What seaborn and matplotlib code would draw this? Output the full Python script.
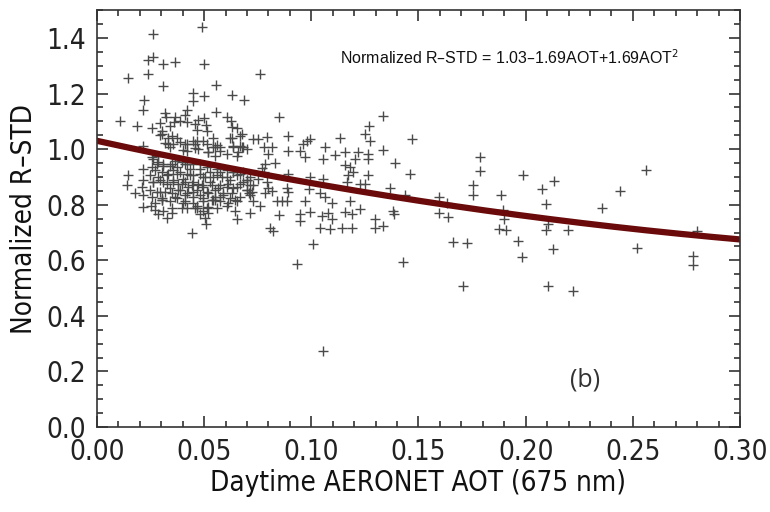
import numpy as np
import pandas as pd
import matplotlib
matplotlib.use("Agg")
import matplotlib.pyplot as plt
import seaborn as sns
from matplotlib.ticker import MultipleLocator

# Daytime AERONET AOT (675 nm) and normalized R-STD
aot = [
    # upper scatter (R-STD > 1.07)
    0.0489, 0.0263, 0.0236, 0.0263, 0.0306, 0.0364, 0.0501, 0.0146, 0.0236, 0.0761,
    0.0306, 0.0554, 0.0446, 0.0446, 0.0499, 0.0628, 0.0686, 0.0221, 0.0216, 0.0107,
    0.0185, 0.0554, 0.0849, 0.1336, 0.1271,
    0.0318, 0.0322, 0.0364, 0.0388, 0.0411, 0.0419, 0.0294, 0.0341, 0.0360, 0.0473,
    0.0499, 0.0509, 0.0458, 0.0605, 0.0624, 0.0629, 0.0655, 0.0418,
    # just above the fit line
    0.0302, 0.0294, 0.0333, 0.0465, 0.0515, 0.0678, 0.0512, 0.0543, 0.0562, 0.0621,
    0.0636, 0.0667, 0.0699, 0.0318, 0.0356, 0.0388, 0.0422, 0.0450, 0.0458, 0.0255,
    0.0519, 0.0574, 0.0659, 0.0550, 0.0682, 0.0403,
    0.0302, 0.0348, 0.0372, 0.0333, 0.0341, 0.0411, 0.0465, 0.0457, 0.0496, 0.0418,
    0.0473, 0.0543, 0.0574, 0.0519, 0.0550, 0.0628, 0.0667, 0.0636, 0.0675, 0.0605,
    0.0652,
    # dense core under the line
    0.0263, 0.0286, 0.0309, 0.0340, 0.0364, 0.0395, 0.0418, 0.0449, 0.0480, 0.0511,
    0.0558, 0.0605, 0.0636, 0.0667,
    0.0270, 0.0301, 0.0333, 0.0356, 0.0387, 0.0418, 0.0449, 0.0480, 0.0504, 0.0542,
    0.0581, 0.0620, 0.0682, 0.0714,
    0.0263, 0.0294, 0.0325, 0.0356, 0.0379, 0.0410, 0.0441, 0.0472, 0.0496, 0.0535,
    0.0566, 0.0605, 0.0651, 0.0698, 0.0729,
    0.0278, 0.0317, 0.0348, 0.0387, 0.0418, 0.0449, 0.0480, 0.0519, 0.0550, 0.0589,
    0.0628, 0.0667, 0.0714,
    0.0301, 0.0340, 0.0371, 0.0410, 0.0449, 0.0496, 0.0535, 0.0574, 0.0612, 0.0651,
    0.0270, 0.0309, 0.0348, 0.0286, 0.0418, 0.0465, 0.0480, 0.0558, 0.0605, 0.0644,
    0.0651, 0.0714,
    0.0325, 0.0349, 0.0442, 0.0504, 0.0509, 0.0519,
    0.0278, 0.0310, 0.0348, 0.0372, 0.0411, 0.0434, 0.0481, 0.0527, 0.0574, 0.0636,
    0.0683,
    0.0286, 0.0325, 0.0372, 0.0403, 0.0434, 0.0496, 0.0558, 0.0605, 0.0652, 0.0698,
    0.0263, 0.0310, 0.0356, 0.0395, 0.0449, 0.0488, 0.0527, 0.0574, 0.0613, 0.0667,
    0.0294, 0.0341, 0.0380, 0.0426, 0.0465, 0.0512, 0.0550, 0.0589, 0.0636, 0.0698,
    0.0255, 0.0302, 0.0364, 0.0411, 0.0449, 0.0496, 0.0543, 0.0574, 0.0620, 0.0644,
    0.0271, 0.0302, 0.0403, 0.0465, 0.0512, 0.0550,
    0.0395, 0.0457, 0.0496, 0.0519,
    # left edge
    0.0216, 0.0255, 0.0286, 0.0216, 0.0255, 0.0146, 0.0247, 0.0138, 0.0216, 0.0177,
    0.0208, 0.0247, 0.0216, 0.0216, 0.0252,
    # middle (0.07 - 0.15)
    0.0730, 0.0753, 0.0792, 0.0893, 0.0979, 0.0963, 0.0994, 0.1134, 0.1251, 0.1274,
    0.1469, 0.0777, 0.0815, 0.0800, 0.0893, 0.0948, 0.0971, 0.1064, 0.1056, 0.1111,
    0.1157, 0.1204, 0.1220, 0.1266, 0.1266, 0.1336, 0.1391, 0.1157, 0.1181, 0.1196,
    0.1173, 0.1165, 0.1266, 0.1227, 0.1251, 0.1367, 0.1461, 0.1437,
    0.0699, 0.0714, 0.0722, 0.0707, 0.0730, 0.0761, 0.0753, 0.0769, 0.0784, 0.0777,
    0.0792, 0.0800, 0.0784, 0.0815, 0.0831, 0.0839, 0.0862, 0.0885, 0.0893, 0.0885,
    0.0893, 0.0971, 0.0994, 0.0987, 0.1056, 0.1041, 0.1064, 0.1095, 0.1228, 0.1181,
    0.1157, 0.1189, 0.0994, 0.0948, 0.0948, 0.1049, 0.1080, 0.1095, 0.0847, 0.0808,
    0.0823, 0.1041, 0.1088, 0.1142, 0.1189, 0.1010, 0.1297, 0.1297, 0.1336, 0.1383,
    0.1386, 0.0933, 0.1053,
    # right tail
    0.1430, 0.1787, 0.1787, 0.1753, 0.1753, 0.1597, 0.1632, 0.1597, 0.1636, 0.1663,
    0.1728, 0.1706, 0.1884, 0.1893, 0.1899, 0.1877, 0.1908, 0.1966, 0.1982, 0.1986,
    0.2075, 0.2132, 0.2094, 0.2106, 0.2094, 0.2199, 0.2129, 0.2103, 0.2220, 0.2355,
    0.2440, 0.2521, 0.2562, 0.2798, 0.2779, 0.2779,
]
rstd = [
    1.441, 1.415, 1.321, 1.333, 1.306, 1.312, 1.306, 1.255, 1.270, 1.270,
    1.229, 1.232, 1.202, 1.175, 1.192, 1.194, 1.176, 1.176, 1.141, 1.100,
    1.085, 1.132, 1.115, 1.118, 1.082,
    1.129, 1.114, 1.114, 1.102, 1.123, 1.097, 1.094, 1.082, 1.097, 1.106,
    1.112, 1.088, 1.090, 1.117, 1.100, 1.079, 1.076, 1.141,
    1.064, 1.050, 1.041, 1.070, 1.067, 1.055, 1.018, 1.039, 1.015, 1.041,
    1.012, 1.012, 1.000, 1.023, 1.018, 1.027, 1.018, 1.029, 1.003, 1.077,
    0.988, 0.994, 0.988, 1.006, 1.006, 0.998,
    1.053, 1.047, 1.041, 1.017, 1.006, 1.017, 1.029, 1.017, 1.029, 0.994,
    1.000, 1.006, 1.006, 0.988, 0.976, 1.041, 1.047, 1.006, 1.006, 0.982,
    0.976,
    0.965, 0.953, 0.947, 0.941, 0.959, 0.953, 0.947, 0.947, 0.947, 0.935,
    0.929, 0.924, 0.918, 0.912,
    0.924, 0.918, 0.912, 0.924, 0.918, 0.912, 0.906, 0.912, 0.900, 0.900,
    0.900, 0.888, 0.882, 0.900,
    0.882, 0.888, 0.876, 0.888, 0.876, 0.882, 0.871, 0.876, 0.865, 0.871,
    0.859, 0.865, 0.865, 0.853, 0.871,
    0.847, 0.847, 0.841, 0.853, 0.841, 0.847, 0.835, 0.841, 0.829, 0.835,
    0.841, 0.829, 0.835,
    0.818, 0.812, 0.823, 0.812, 0.806, 0.812, 0.818, 0.812, 0.806, 0.812,
    0.782, 0.776, 0.771, 0.765, 0.788, 0.788, 0.765, 0.788, 0.794, 0.776,
    0.747, 0.771,
    0.753, 0.787, 0.700, 0.753, 0.729, 0.792,
    0.947, 0.941, 0.947, 0.935, 0.947, 0.929, 0.929, 0.917, 0.917, 0.917,
    0.917,
    0.900, 0.906, 0.912, 0.894, 0.906, 0.900, 0.906, 0.900, 0.906, 0.888,
    0.882, 0.882, 0.882, 0.876, 0.882, 0.870, 0.882, 0.870, 0.876, 0.876,
    0.847, 0.859, 0.853, 0.865, 0.853, 0.847, 0.853, 0.841, 0.859, 0.853,
    0.829, 0.823, 0.829, 0.835, 0.829, 0.823, 0.817, 0.829, 0.823, 0.817,
    0.806, 0.817, 0.806, 0.794, 0.788, 0.817,
    0.788, 0.788, 0.776, 0.770,
    1.012, 0.970, 0.976, 0.929, 0.935, 0.906, 0.906, 0.870, 0.888, 0.841,
    0.865, 0.853, 0.835, 0.792, 0.794,
    1.035, 1.035, 1.045, 1.047, 1.029, 1.017, 1.038, 1.041, 1.053, 1.029,
    1.038, 1.006, 1.006, 0.982, 0.994, 0.994, 0.970, 1.006, 0.965, 0.979,
    0.988, 0.965, 0.988, 0.982, 0.965, 0.997, 0.950, 0.943, 0.935, 0.917,
    0.906, 0.882, 0.908, 0.873, 0.876, 0.859, 0.912, 0.835,
    0.888, 0.870, 0.847, 0.841, 0.812, 0.794, 0.894, 0.932, 0.947, 0.917,
    0.882, 0.859, 0.841, 0.849, 0.950, 0.812, 0.812, 0.812, 0.912, 0.859,
    0.847, 0.812, 0.900, 0.856, 0.894, 0.841, 0.829, 0.806, 0.786, 0.812,
    0.774, 0.765, 0.773, 0.765, 0.743, 0.759, 0.770, 0.750, 0.762, 0.717,
    0.706, 0.717, 0.712, 0.715, 0.717, 0.659, 0.750, 0.717, 0.723, 0.776,
    0.767, 0.588, 0.273,
    0.594, 0.973, 0.923, 0.870, 0.835, 0.827, 0.808, 0.770, 0.756, 0.667,
    0.662, 0.506, 0.835, 0.782, 0.747, 0.711, 0.709, 0.670, 0.611, 0.906,
    0.855, 0.886, 0.801, 0.729, 0.708, 0.708, 0.639, 0.508, 0.491, 0.789,
    0.849, 0.643, 0.926, 0.706, 0.615, 0.582,
]

# quadratic fit given in the figure
fit_c0, fit_c1, fit_c2 = 1.03, -1.69, 1.69
fit_label = "Normalized R\u2013STD = 1.03\u20131.69AOT+1.69AOT$^2$"
panel_label = "(b)"

df = pd.DataFrame({"AOT": aot, "RSTD": rstd})
x_fit = np.linspace(0, 0.3, 200)
fit_df = pd.DataFrame({"AOT": x_fit, "RSTD": fit_c0 + fit_c1 * x_fit + fit_c2 * x_fit ** 2})

sns.set_theme(style="ticks")
plt.rcParams["font.family"] = ["DejaVu Sans"]
plt.rcParams["font.stretch"] = "condensed"

fig = plt.figure(figsize=(7.7, 5.12), dpi=100)
ax = fig.add_axes([0.126, 0.166, 0.835, 0.814])

sns.scatterplot(data=df, x="AOT", y="RSTD", marker="+", color="#4a4a4a",
                s=45, linewidth=1.0, ax=ax, legend=False)
sns.lineplot(data=fit_df, x="AOT", y="RSTD", color="#6a0a0a", linewidth=4.5, ax=ax)

ax.set_xlim(0, 0.3)
ax.set_ylim(0, 1.5)
ax.xaxis.set_major_locator(MultipleLocator(0.05))
ax.xaxis.set_minor_locator(MultipleLocator(0.01))
ax.yaxis.set_major_locator(MultipleLocator(0.2))
ax.yaxis.set_minor_locator(MultipleLocator(0.05))
ax.xaxis.set_major_formatter(plt.FormatStrFormatter("%.2f"))
ax.yaxis.set_major_formatter(plt.FormatStrFormatter("%.1f"))
ax.tick_params(which="both", direction="in", top=True, right=True,
               colors="#222222", labelsize=20, width=1.1)
ax.tick_params(which="major", length=8, pad=8)
ax.tick_params(which="minor", length=4.5)
for sp in ax.spines.values():
    sp.set_linewidth(1.2)
    sp.set_color("#333333")

ax.set_xlabel("Daytime AERONET AOT (675 nm)", fontsize=20, color="#111111", labelpad=2)
ax.set_ylabel("Normalized R\u2013STD", fontsize=20, color="#111111", labelpad=6)

ax.text(0.642, 0.887, fit_label, transform=ax.transAxes, ha="center", va="center",
        fontsize=11.5, family=["Liberation Sans", "DejaVu Sans"], stretch="normal",
        color="#111111")
ax.text(0.759, 0.113, panel_label, transform=ax.transAxes, ha="center", va="center",
        fontsize=18, family=["Open Sans", "DejaVu Sans"], stretch="normal",
        color="#333333")

fig.savefig("out.png", dpi=100)
